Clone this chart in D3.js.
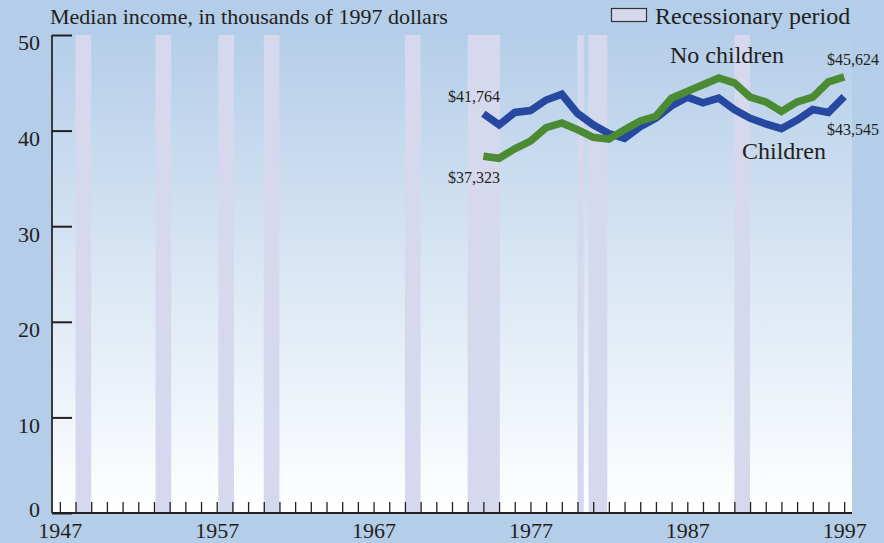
<!DOCTYPE html>
<html>
<head>
<meta charset="utf-8">
<script src="https://cdn.jsdelivr.net/npm/d3@7"></script>
<style>
  body { margin: 0; background: #b4cde9; }
  svg text { font-family: "Liberation Serif", "Times New Roman", serif; fill: #231f20; }
</style>
</head>
<body>
<div id="chart"></div>
<script>
(function () {
    // data
    var years = d3.range(1974, 1998)
    var children = [41.764, 40.6, 41.9, 42.1, 43.2, 43.8, 41.8, 40.6, 39.7, 39.2, 40.4, 41.3,
        42.6, 43.5, 42.9, 43.4, 42.2, 41.3, 40.7, 40.2, 41.1, 42.2, 41.9, 43.545]
    var noChildren = [37.323, 37.1, 38.1, 38.9, 40.3, 40.8, 40.1, 39.3, 39.1, 40.1, 41.0, 41.5,
        43.4, 44.1, 44.8, 45.5, 45.0, 43.5, 43.0, 42.0, 43.0, 43.5, 45.1, 45.624]
    var recessionStart = [1948, 1953.1, 1957.1, 1960, 1969, 1973, 1980, 1980.7, 1990]
    var recessionEnd = [1949, 1954.1, 1958.1, 1961, 1970, 1975.05, 1980.4, 1981.9, 1991]
    var yTicks = [0, 10, 20, 30, 40, 50]
    var xLabels = [1947, 1957, 1967, 1977, 1987, 1997]

    var width = 884
    var height = 543
    var margin = { top: 35, right: 32, bottom: 30, left: 52 }

    var svg = d3.select("#chart")
        .append("svg")
        .attr("width", width)
        .attr("height", height)

    var defs = svg.append("defs")
    var grad = defs.append("linearGradient")
        .attr("id", "bg")
        .attr("x1", 0).attr("y1", 0).attr("x2", 0).attr("y2", 1)
    grad.append("stop").attr("offset", "0%").attr("stop-color", "#b5cee9")
    grad.append("stop").attr("offset", "100%").attr("stop-color", "#ffffff")

    var x = d3.scaleLinear()
        .domain([1946.5, 1997.5])
        .range([margin.left, width - margin.right])
    var y = d3.scaleLinear()
        .domain([0, 50])
        .range([height - margin.bottom, margin.top])

    // plot background
    svg.append("rect")
        .attr("x", x(1946.5))
        .attr("y", y(50))
        .attr("width", x(1997.5) - x(1946.5))
        .attr("height", y(0) - y(50))
        .attr("fill", "url(#bg)")

    // recession bars
    svg.selectAll(".rec")
        .data(recessionStart)
        .enter()
        .append("rect")
        .attr("x", function (d) { return x(d) })
        .attr("y", y(50))
        .attr("width", function (d, i) { return x(recessionEnd[i]) - x(d) })
        .attr("height", y(0) - y(50))
        .attr("fill", "#d6d9ee")

    // lines
    var line = d3.line()
        .x(function (d, i) { return x(years[i]) })
        .y(function (d) { return y(d) })

    svg.append("path")
        .attr("d", line(children))
        .attr("fill", "none")
        .attr("stroke", "#2748a0")
        .attr("stroke-width", 7.5)

    svg.append("path")
        .attr("d", line(noChildren))
        .attr("fill", "none")
        .attr("stroke", "#4a8b33")
        .attr("stroke-width", 7.5)

    // axes
    var xAxis = d3.axisBottom(x)
        .tickValues(d3.range(1947, 1998))
        .tickSize(-11)
        .tickPadding(9)
        .tickFormat(function (d) { return xLabels.indexOf(d) >= 0 ? d : "" })
    var gx = svg.append("g")
        .attr("transform", "translate(0," + y(0) + ")")
        .call(xAxis)
    gx.select(".domain").attr("d", "M" + x(1946.5) + ",0H" + x(1997.5)).attr("stroke-width", 2)
    gx.selectAll("line").attr("stroke", "#231f20").attr("stroke-width", 1.3)
    gx.selectAll("text").style("font-size", "22px").attr("fill", "#231f20")

    var yAxis = d3.axisLeft(y)
        .tickValues(yTicks)
        .tickSize(-20)
        .tickPadding(12)
    var gy = svg.append("g")
        .attr("transform", "translate(" + x(1946.5) + ",0)")
        .call(yAxis)
    gy.select(".domain").attr("d", "M0," + y(0) + "V" + y(50)).attr("stroke-width", 2)
    gy.selectAll("line").attr("stroke", "#231f20").attr("stroke-width", 2)
    gy.selectAll("text")
        .style("font-size", "22px")
        .attr("fill", "#231f20")
        .attr("dy", function (d) { return d === 0 ? "0.18em" : "0.68em" })
    gx.selectAll(".domain, line").attr("stroke", "#231f20")
    gy.select(".domain").attr("stroke", "#3a3a3a")

    // title
    svg.append("text")
        .attr("x", 50)
        .attr("y", 24)
        .style("font-size", "22px")
        .text("Median income, in thousands of 1997 dollars")

    // legend
    svg.append("rect")
        .attr("x", 611.5)
        .attr("y", 8.5)
        .attr("width", 35)
        .attr("height", 13)
        .attr("fill", "#d6d9ee")
        .attr("stroke", "#333")
        .attr("stroke-width", 1.2)
    svg.append("text")
        .attr("x", 655)
        .attr("y", 23.5)
        .style("font-size", "24px")
        .text("Recessionary period")

    // series labels
    svg.append("text").attr("x", 670).attr("y", 63).style("font-size", "24px").text("No children")
    svg.append("text").attr("x", 742).attr("y", 159).style("font-size", "24px").text("Children")

    var fmt = d3.format("$,")
    svg.append("text").attr("x", 448).attr("y", 102).style("font-size", "16px")
        .text(fmt(Math.round(children[0] * 1000)))
    svg.append("text").attr("x", 448).attr("y", 183).style("font-size", "16px")
        .text(fmt(Math.round(noChildren[0] * 1000)))
    svg.append("text").attr("x", 827).attr("y", 65).style("font-size", "16px")
        .text(fmt(Math.round(noChildren[noChildren.length - 1] * 1000)))
    svg.append("text").attr("x", 827).attr("y", 135).style("font-size", "16px")
        .text(fmt(Math.round(children[children.length - 1] * 1000)))
})();
</script>
</body>
</html>
